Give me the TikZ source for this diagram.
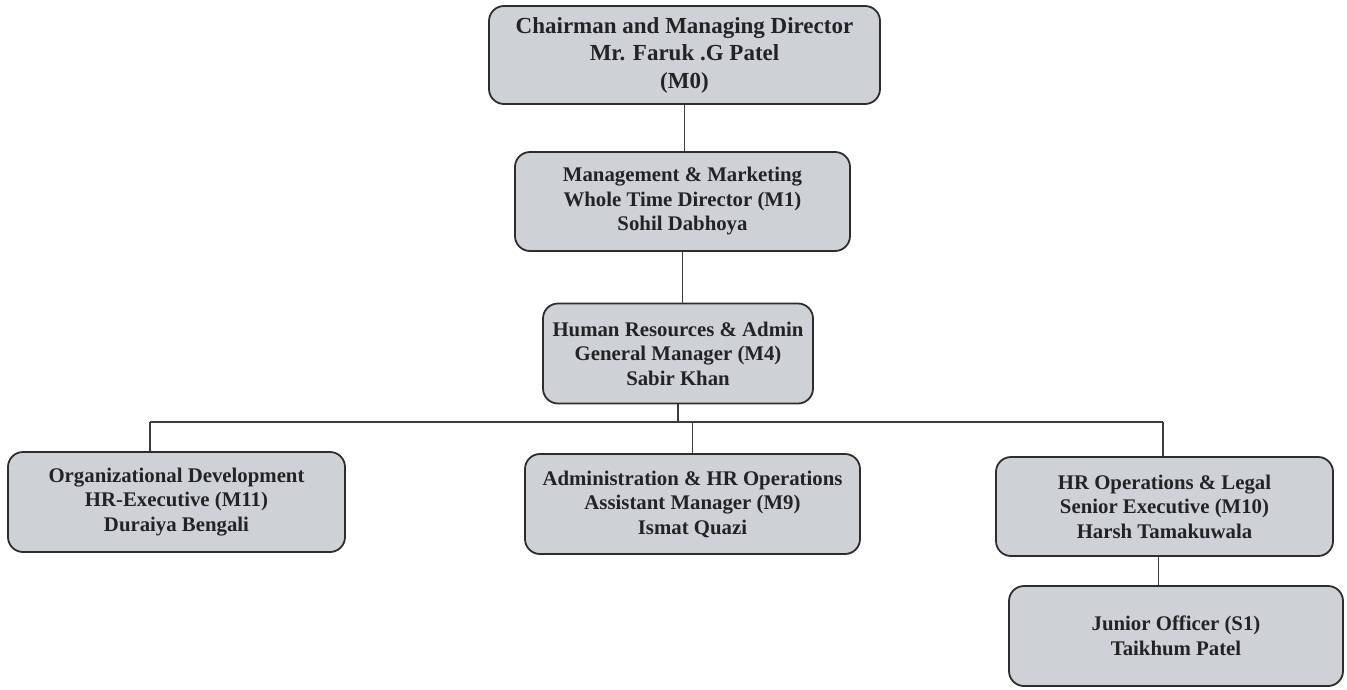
\documentclass[tikz,border=0pt]{standalone}
\usepackage{fontspec}
\setmainfont{Liberation Serif}
\definecolor{boxfill}{RGB}{206,209,214}
\definecolor{boxline}{RGB}{45,45,45}
\definecolor{linecol}{RGB}{60,60,60}
\definecolor{txt}{RGB}{35,35,35}
\begin{document}
\begin{tikzpicture}[x=1pt,y=1pt,
  box/.style={draw=boxline, line width=1.8pt, fill=boxfill, rounded corners=15pt,
    align=center, text=txt, inner sep=0pt,
    font=\fontsize{20.8}{24.5}\selectfont\bfseries},
  link/.style={draw=linecol, line width=1.2pt}]
\useasboundingbox[fill=white] (0,0) rectangle (1347,-689);
% boxes
\node[box, minimum width=391pt, minimum height=98pt,
  font=\fontsize{23}{27.5}\selectfont\bfseries] (m0) at (684.5,-55)
  {Chairman and Managing Director\\Mr. Faruk .G Patel\\(M0)};
\node[box, minimum width=335pt, minimum height=99pt] (m1) at (682.5,-201.5)
  {Management \& Marketing\\Whole Time Director (M1)\\Sohil Dabhoya};
\node[box, minimum width=270pt, minimum height=100pt] (m4) at (678,-353.5)
  {Human Resources \& Admin\\General Manager (M4)\\Sabir Khan};
\node[box, minimum width=337pt, minimum height=100pt] (m11) at (176.5,-502)
  {Organizational Development\\HR-Executive (M11)\\Duraiya Bengali};
\node[box, minimum width=335pt, minimum height=100pt] (m9) at (692.5,-504)
  {Administration \& HR Operations\\Assistant Manager (M9)\\Ismat Quazi};
\node[box, minimum width=337pt, minimum height=99pt] (m10) at (1164.5,-506.5)
  {HR Operations \& Legal\\Senior Executive (M10)\\Harsh Tamakuwala};
\node[box, minimum width=334pt, minimum height=100pt] (s1) at (1176,-636)
  {Junior Officer (S1)\\Taikhum Patel};
% connectors
\coordinate (bus) at (678,-422);
\coordinate (bl) at (150,-422);
\coordinate (br) at (1163,-422);
\draw[link] (m0.south) -- (m0.south |- m1.north);
\draw[link] (m1.south) -- (m1.south |- m4.north);
\draw[link] (m4.south) -- (bus);
\draw[link] (bl) -- (br);
\draw[link] (bl) -- (bl |- m11.north);
\draw[link] (m9.north |- bus) -- (m9.north);
\draw[link] (br) -- (br |- m10.north);
\draw[link] ([xshift=-6pt]m10.south) -- ([xshift=-6pt]m10.south |- s1.north);
\end{tikzpicture}
\end{document}
